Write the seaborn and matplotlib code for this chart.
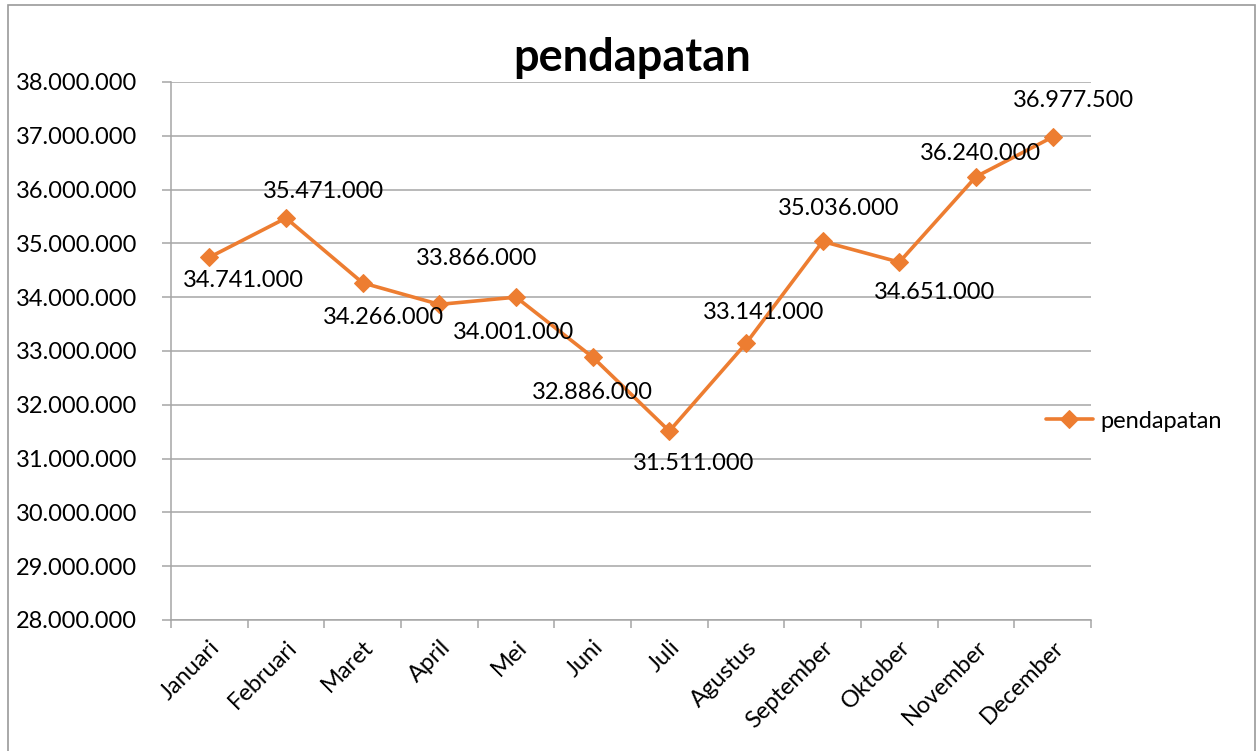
import matplotlib
matplotlib.use("Agg")
import matplotlib.pyplot as plt
import seaborn as sns
import pandas as pd
from matplotlib.ticker import FuncFormatter, FixedLocator
from matplotlib.patches import Rectangle

months = ["Januari", "Februari", "Maret", "April", "Mei", "Juni", "Juli",
          "Agustus", "September", "Oktober", "November", "December"]
pendapatan = [34741000, 35471000, 34266000, 33866000, 34001000, 32886000,
              31511000, 33141000, 35036000, 34651000, 36240000, 36977500]
label_offsets_px = [(34, -23), (37, 27), (21, -35), (37, 46), (-2, -35), (0, -35),
                    (24, -32), (18, 31), (16, 33), (35, -30), (4, 23), (21, 37)]

sns.set_theme(style="white")
plt.rcParams['font.family'] = ['Lato', 'DejaVu Sans']
plt.rcParams['text.color'] = 'black'
plt.rcParams['xtick.labelcolor'] = 'black'
plt.rcParams['ytick.labelcolor'] = 'black'

ORANGE = "#ED7D31"
GRID = "#A6A6A6"

def fmt(v, pos=None):
    return f"{int(round(v)):,}".replace(",", ".")

fig = plt.figure(figsize=(12.59, 7.51), dpi=100)
ax = fig.add_axes([171/1259, 1-620/751, (1091-171)/1259, (620-82)/751])

df = pd.DataFrame({"bulan": months, "pendapatan": pendapatan})
sns.lineplot(data=df, x="bulan", y="pendapatan", sort=False, ax=ax,
             color=ORANGE, linewidth=2.6, marker="D", markersize=9,
             markeredgecolor=ORANGE, markerfacecolor=ORANGE, label="pendapatan")

ax.set_xlim(-0.5, len(months) - 0.5)
ax.set_ylim(28000000, 38000000)
ax.set_yticks(range(28000000, 38000001, 1000000))
ax.yaxis.set_major_formatter(FuncFormatter(fmt))
ax.grid(axis="y", color=GRID, linewidth=1.1)
ax.set_axisbelow(True)
ax.set_xlabel("")
ax.set_ylabel("")

for s in ["top", "right"]:
    ax.spines[s].set_visible(False)
for s in ["left", "bottom"]:
    ax.spines[s].set_color(GRID)
    ax.spines[s].set_linewidth(1.1)

# category ticks at boundaries
ax.set_xticks(range(len(months)))
ax.set_xticklabels(months, rotation=45, ha="right", rotation_mode="anchor",
                   fontsize=17, color="black")
ax.tick_params(axis="x", which="major", length=0, pad=12, labelcolor="black")
ax.xaxis.set_minor_locator(FixedLocator([i - 0.5 for i in range(len(months) + 1)]))
ax.tick_params(axis="x", which="minor", length=6, width=1.1, color=GRID, direction="out", bottom=True)
ax.tick_params(axis="y", which="major", length=6.5, width=1.1, color=GRID, direction="out",
               left=True, labelsize=17, pad=18, labelcolor="black")

for i, (v, (dx, dy)) in enumerate(zip(pendapatan, label_offsets_px)):
    ax.annotate(fmt(v), xy=(i, v), xytext=(dx, dy), textcoords="offset pixels",
                ha="center", va="center", fontsize=17, color="black")

fig.suptitle("pendapatan", x=632/1259, y=1-58/751, va="center",
             fontsize=32.5, fontweight="bold", color="black")

leg = ax.legend(loc="center left", bbox_to_anchor=(1034/1259, 1-421/751),
                bbox_transform=fig.transFigure, frameon=False, fontsize=17,
                handlelength=2.0, handletextpad=0.3, borderpad=0)
for t in leg.get_texts():
    t.set_color("black")

fig.patches.append(Rectangle((8/1259, -0.01), (1255-8)/1259, 1.01 - 5/751,
                             transform=fig.transFigure, fill=False,
                             edgecolor="#9A9A9A", linewidth=1.2))

fig.savefig("out.png", dpi=100)
